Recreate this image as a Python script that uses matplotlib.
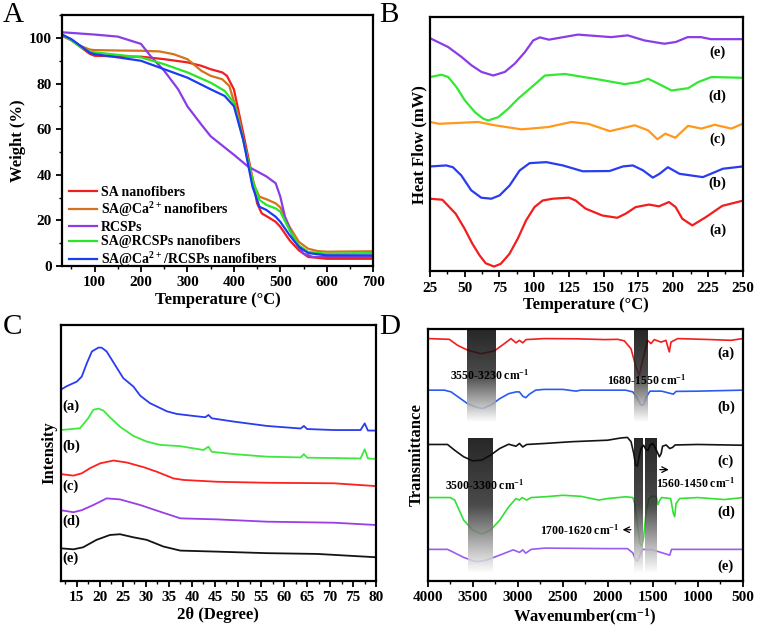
import numpy as np
import matplotlib
matplotlib.use('Agg')
import matplotlib.pyplot as plt
from matplotlib.colors import LinearSegmentedColormap
from matplotlib.ticker import MultipleLocator

plt.rcParams['font.family'] = 'Liberation Serif'
plt.rcParams['font.weight'] = 'bold'
plt.rcParams['axes.labelweight'] = 'bold'
plt.rcParams['mathtext.fontset'] = 'custom'
plt.rcParams['mathtext.rm'] = 'Liberation Serif:bold'
plt.rcParams['mathtext.bf'] = 'Liberation Serif:bold'
plt.rcParams['mathtext.default'] = 'bf'

# ---------------- A: TGA (weight %) ----------------
tga_T = {
    'SA': [30, 50, 70, 90, 100, 150, 200, 250, 300, 330, 350, 375, 385, 400, 420, 435,
           450, 460, 475, 490, 500, 520, 540, 560, 600, 700],
    'SACa': [30, 50, 70, 90, 100, 150, 200, 240, 270, 300, 330, 350, 375, 390, 410, 430,
             445, 455, 470, 490, 500, 520, 540, 560, 580, 600, 700],
    'RCSP': [30, 100, 150, 200, 220, 250, 280, 300, 330, 350, 400, 430, 450, 470, 490,
             500, 510, 530, 550, 570, 600, 700],
    'SARC': [30, 50, 70, 90, 100, 150, 200, 250, 300, 350, 380, 400, 420, 440, 455, 470,
             490, 500, 520, 540, 560, 600, 700],
    'SACaRC': [30, 50, 70, 90, 100, 150, 200, 250, 300, 350, 380, 400, 420, 440, 455, 470,
               490, 500, 520, 540, 560, 600, 700],
}
tga_W = {
    'SA': [101, 99, 96, 93, 92.2, 91.9, 91.8, 90.7, 89.3, 87.8, 86.3, 84.9, 83.4, 77.5,
           58.4, 43.7, 27.5, 23.1, 21.3, 19.4, 17.2, 11.3, 6.9, 4.0, 3.2, 3.2],
    'SACa': [101, 99, 96.5, 94.9, 94.7, 94.5, 94.4, 94.1, 92.9, 90.7, 85.6, 83.4, 81.9,
             79.0, 65.7, 46.6, 34.9, 30.4, 29.3, 27.5, 25.7, 17.2, 10.6, 7.6, 6.6, 6.3, 6.5],
    'RCSP': [102.5, 101.5, 100.6, 97.4, 92.2, 85.6, 77.5, 70.0, 62.0, 56.9, 48.8, 43.7,
             41.5, 39.3, 36.3, 30.4, 21.6, 11.3, 5.4, 4.0, 4.0, 4.0],
    'SARC': [101.5, 99, 96, 94, 93.7, 92.6, 91.5, 88.5, 84.9, 80.4, 76.8, 71.6, 55.4,
             37.8, 29.0, 26.8, 25.3, 23.8, 15.7, 9.1, 6.2, 5.4, 5.7],
    'SACaRC': [101.5, 99.5, 96.5, 93.5, 92.9, 91.5, 90.0, 86.3, 82.6, 77.5, 74.6, 70.1,
               55.4, 34.9, 26.0, 24.6, 21.6, 19.4, 13.5, 8.4, 5.7, 4.7, 4.7],
}
tga_labels = ['SA nanofibers', 'SA@Ca$^{2+}$nanofibers', 'RCSPs',
              'SA@RCSPs nanofibers', 'SA@Ca$^{2+}$/RCSPs nanofibers']
tga_keys = ['SA', 'SACa', 'RCSP', 'SARC', 'SACaRC']
tga_colors = ['#f21d1d', '#d4731c', '#8a3de6', '#27e627', '#1b3cf0']

# ---------------- B: DSC (arbitrary heat flow) ----------------
dsc_T = {
    'e': [25, 38.1, 47.7, 54.9, 62.1, 70.5, 78.9, 86.1, 93.3, 99.3, 104.1, 110.6, 131.5,
          155.4, 167.3, 179.3, 193.7, 202, 210.4, 220, 227.2, 250],
    'd': [25, 33.4, 38.1, 44.1, 50.1, 57.3, 63.3, 66.9, 74.1, 81.3, 88.5, 98.1, 107.7,
          122, 143.6, 165.2, 174.8, 182, 189.2, 198.8, 210.8, 218, 227.6, 250],
    'c': [25, 31.4, 59.7, 71.7, 90.9, 110, 126.8, 138.8, 154.4, 172.4, 182, 188.7, 194.4,
          201.6, 210.7, 220.3, 229.9, 241.9, 250],
    'b': [25, 36.7, 41.5, 47.5, 54.7, 61.9, 69.1, 75.1, 82.3, 89.5, 96.7, 108.7, 120.6,
          135, 154.2, 163.8, 171, 178.2, 185.4, 190.2, 196.2, 204.6, 221.4, 235.8, 250],
    'a': [25, 33.9, 43.5, 49.9, 55.5, 60.7, 65.1, 71.1, 76, 82.2, 88.2, 94.2, 100.2,
          106.1, 113.3, 125, 129.8, 137, 149, 159.8, 165.8, 173, 182.6, 189.8, 197,
          201.8, 206.6, 213.8, 223.4, 235.4, 250],
}
dsc_H = {
    'e': [91.7, 88.2, 84.3, 81.0, 78.4, 77.0, 78.4, 81.7, 86.2, 90.8, 92.0, 91.1, 93.1,
          92.1, 92.8, 90.8, 89.5, 90.2, 92.1, 92.1, 91.3, 91.3],
    'd': [76.4, 77.3, 76.4, 72.4, 67.2, 62.6, 60.0, 59.3, 60.6, 63.9, 67.9, 72.4, 77.0,
          77.6, 75.7, 73.6, 74.4, 75.7, 73.8, 71.1, 72.0, 74.4, 76.4, 76.1],
    'c': [58.7, 58.0, 58.7, 57.4, 55.8, 56.7, 58.7, 58.0, 55.1, 57.4, 55.4, 51.9, 54.1,
          52.5, 57.2, 56.1, 57.6, 56.1, 58.0],
    'b': [41.2, 41.6, 40.9, 37.7, 31.8, 28.9, 28.5, 29.8, 33.7, 39.6, 42.5, 42.9, 41.6,
          39.3, 39.4, 41.2, 41.6, 39.7, 36.8, 38.3, 40.9, 38.3, 37.0, 40.3, 41.2],
    'a': [28.5, 28.1, 22.6, 16.7, 10.8, 6.2, 3.1, 1.8, 2.9, 6.8, 12.8, 20.0, 25.2, 27.8,
          28.5, 28.9, 27.8, 24.6, 21.9, 21.0, 22.6, 25.2, 26.2, 25.5, 27.2, 25.2, 20.6,
          18.0, 21.2, 25.7, 27.7],
}
dsc_colors = {'e': '#8a3de6', 'd': '#33e833', 'c': '#ff981c', 'b': '#2a3cf0', 'a': '#f21d1d'}
dsc_label_y = {'e': 86, 'd': 69, 'c': 51.8, 'b': 34.5, 'a': 16}

# ---------------- C: XRD (arbitrary intensity) ----------------
xrd_2t = {
    'a': [11.5, 12.8, 15, 16.1, 17.2, 18.3, 19.7, 20.4, 21.5, 23.3, 25.1, 27.3, 28.8,
          30.9, 34.6, 36.7, 40.4, 42.9, 43.6, 44.3, 49.1, 56.3, 63.6, 64.3, 65, 70.8,
          76.6, 77.5, 78.2, 80],
    'b': [11.5, 15.7, 17.5, 18.6, 19.7, 20.8, 22.2, 24.4, 27.3, 30.2, 33.1, 37.5, 42.5,
          43.6, 44.3, 49.1, 56.3, 63.6, 64.3, 65, 76.6, 77.5, 78.2, 80],
    'c': [11.5, 14.3, 16.1, 17.9, 20.1, 23, 25.9, 29.5, 32.4, 36, 38.2, 45.4, 56.3, 70.8, 80],
    'd': [11.5, 14.3, 16.1, 18.6, 21.5, 24.4, 28.8, 33.1, 37.5, 45.4, 56.3, 70.8, 80],
    'e': [11.5, 14.3, 16.4, 19.3, 22.2, 24.4, 27.3, 30.2, 33.8, 37.5, 45.4, 56.3, 67.2, 80],
}
xrd_I = {
    'a': [74.6, 76.0, 77.8, 79.8, 85.0, 89.6, 91.1, 91.1, 89.6, 84.4, 79.2, 75.9, 72.3,
          69.4, 66.2, 65.2, 64.4, 63.9, 64.8, 63.5, 62.2, 60.5, 59.5, 60.5, 59.3, 58.9,
          58.9, 61.5, 58.7, 58.7],
    'b': [58.9, 59.6, 63.5, 66.8, 67.3, 66.5, 63.9, 60.2, 56.6, 54.4, 53.1, 52.6, 51.1,
          52.4, 50.4, 49.5, 48.5, 48.2, 49.5, 48.1, 47.8, 51.4, 47.8, 47.6],
    'c': [41.7, 41.1, 42.0, 44.0, 45.9, 47.0, 46.2, 44.4, 42.6, 40.0, 39.4, 38.7, 38.3, 38.1, 37.0],
    'd': [27.6, 26.8, 27.6, 29.6, 32.2, 31.8, 29.6, 27.0, 24.4, 24.0, 23.1, 22.7, 21.8],
    'e': [12.7, 12.3, 13.1, 16.0, 17.9, 18.2, 17.0, 16.0, 13.4, 11.8, 11.4, 10.8, 10.5, 9.2],
}
xrd_colors = {'a': '#2a3cf0', 'b': '#3ee83e', 'c': '#ff2020', 'd': '#9a3ee6', 'e': '#141414'}
xrd_label_y = {'a': 68.3, 'b': 52.4, 'c': 37.0, 'd': 23.4, 'e': 9.0}

# ---------------- D: FTIR (arbitrary transmittance) ----------------
ir_wn = {
    'a': [4000, 3760, 3667, 3556, 3407, 3259, 3148, 3074, 3019, 2981, 2944, 2907, 2704,
          2333, 2037, 1889, 1815, 1741, 1685, 1648, 1611, 1556, 1519, 1481, 1407, 1352,
          1315, 1296, 1222, 852, 630, 500],
    'b': [4000, 3815, 3740, 3650, 3556, 3450, 3390, 3300, 3200, 3100, 3019, 2981, 2944,
          2910, 2870, 2800, 2704, 2500, 2350, 2300, 2000, 1800, 1720, 1680, 1630, 1600,
          1570, 1530, 1400, 1270, 1240, 1000, 500],
    'c': [4000, 3780, 3700, 3600, 3500, 3400, 3300, 3200, 3100, 3019, 2980, 2944, 2900,
          2700, 2400, 2000, 1850, 1780, 1740, 1710, 1690, 1670, 1650, 1630, 1600, 1575,
          1550, 1530, 1500, 1480, 1450, 1425, 1405, 1390, 1350, 1310, 1280, 1250, 1000, 500],
    'd': [4000, 3750, 3700, 3650, 3600, 3500, 3400, 3300, 3200, 3100, 3019, 2980, 2950,
          2900, 2850, 2700, 2500, 2300, 2100, 2000, 1800, 1720, 1700, 1670, 1640, 1620,
          1600, 1570, 1540, 1500, 1460, 1440, 1420, 1400, 1300, 1270, 1255, 1240, 1200,
          1000, 700, 500],
    'e': [4000, 3780, 3700, 3600, 3500, 3450, 3350, 3200, 3050, 2980, 2944, 2910, 2850,
          2700, 2000, 1780, 1720, 1690, 1670, 1640, 1610, 1500, 1310, 1290, 1000, 500],
}
ir_T = {
    'a': [96.3, 96.0, 93.6, 91.7, 90.3, 91.4, 94.3, 96.3, 94.6, 95.6, 94.6, 95.9, 96.3,
          96.2, 95.9, 96.0, 95.4, 92.3, 85.0, 81.7, 87.7, 95.6, 94.3, 95.9, 94.9, 95.6,
          91.0, 94.9, 96.3, 95.9, 95.6, 96.3],
    'b': [75.8, 75.8, 75.1, 72.8, 70.4, 68.9, 68.5, 69.8, 72.4, 74.4, 75.1, 75.1, 73.4,
          72.8, 74.2, 75.8, 76.1, 76.1, 75.4, 75.8, 75.8, 75.8, 75.1, 73.1, 69.8, 70.0,
          73.1, 75.4, 75.4, 74.2, 75.3, 75.4, 75.8],
    'c': [54.2, 54.2, 51.9, 49.3, 47.7, 48.0, 50.0, 52.6, 54.3, 53.5, 54.6, 53.2, 54.2,
          54.6, 55.3, 55.9, 56.8, 57.0, 55.3, 50.6, 46.0, 45.6, 49.3, 52.6, 53.9, 52.2,
          51.9, 53.9, 54.6, 53.5, 51.3, 49.3, 50.6, 53.5, 54.0, 52.6, 53.0, 54.0, 54.2, 53.9],
    'd': [33.1, 33.1, 32.1, 28.1, 24.1, 20.2, 18.6, 20.2, 24.1, 29.4, 32.7, 32.1, 33.1,
          32.1, 33.1, 33.4, 34.0, 33.6, 32.1, 32.7, 33.4, 33.1, 30.7, 22.7, 14.8, 13.7,
          17.4, 28.1, 32.7, 33.7, 33.4, 30.3, 32.1, 33.1, 32.7, 26.8, 25.5, 30.7, 32.7,
          33.1, 32.3, 33.1],
    'e': [12.5, 12.5, 11.1, 9.3, 8.0, 7.6, 8.2, 10.2, 12.3, 11.3, 12.3, 11.0, 12.5, 13.0,
          12.8, 12.8, 11.1, 8.3, 7.8, 10.2, 12.5, 12.3, 10.2, 12.5, 12.5, 12.5],
}
ir_colors = {'a': '#f21d1d', 'b': '#2a5cf0', 'c': '#141414', 'd': '#33e033', 'e': '#9a5cf0'}
ir_label_y = {'a': 90.3, 'b': 69.1, 'c': 47.7, 'd': 27.4, 'e': 5.8}

# shaded bands: (wavenumber from, wavenumber to, intensity bottom, intensity top)
ir_bands = [(3563, 3241, 63.2, 100), (1711, 1563, 63.2, 100),
            (3548, 3278, 3.1, 56.6), (1711, 1611, 3.1, 56.6), (1585, 1452, 3.1, 56.6)]


def style_axes(ax, ylabel, xlabel, show_y=True):
    for sp in ax.spines.values():
        sp.set_linewidth(1.6)
    ax.tick_params(axis='both', which='major', direction='out', length=4, width=1.3,
                   labelsize=11)
    ax.tick_params(axis='both', which='minor', direction='out', length=2.5, width=1.0)
    ax.set_xlabel(xlabel, fontsize=12, labelpad=2)
    ax.set_ylabel(ylabel, fontsize=12, labelpad=2)
    if not show_y:
        ax.set_yticks([])


fig = plt.figure(figsize=(7.57, 6.32), dpi=100)
axA = fig.add_axes([0.082, 0.579, 0.411, 0.397])
axB = fig.add_axes([0.568, 0.571, 0.413, 0.402])
axC = fig.add_axes([0.080, 0.081, 0.417, 0.405])
axD = fig.add_axes([0.565, 0.081, 0.416, 0.398])

# A
for k, lab, c in zip(tga_keys, tga_labels, tga_colors):
    axA.plot(tga_T[k], tga_W[k], color=c, lw=1.6, label=lab)
axA.set_xlim(30, 700)
axA.set_ylim(0, 110)
axA.xaxis.set_major_locator(MultipleLocator(100))
axA.xaxis.set_minor_locator(MultipleLocator(50))
axA.yaxis.set_major_locator(MultipleLocator(20))
axA.yaxis.set_minor_locator(MultipleLocator(10))
style_axes(axA, 'Weight (%)', 'Temperature (°C)')
axA.legend(loc='lower left', bbox_to_anchor=(-0.005, -0.045), frameon=False,
           fontsize=10, handlelength=2.0, handletextpad=0.3, labelspacing=0.12,
           borderaxespad=0.2)

# B
for k in ['e', 'd', 'c', 'b', 'a']:
    axB.plot(dsc_T[k], dsc_H[k], color=dsc_colors[k], lw=1.6)
    axB.text(232, dsc_label_y[k], f'({k})', fontsize=10.5, ha='center', va='center')
axB.set_xlim(25, 250)
axB.set_ylim(0, 100)
axB.xaxis.set_major_locator(MultipleLocator(25))
axB.xaxis.set_minor_locator(MultipleLocator(12.5))
style_axes(axB, 'Heat Flow (mW)', 'Temperature (°C)', show_y=False)

# C
for k in ['a', 'b', 'c', 'd', 'e']:
    axC.plot(xrd_2t[k], xrd_I[k], color=xrd_colors[k], lw=1.3)
    axC.text(12.0, xrd_label_y[k], f'({k})', fontsize=10.5, ha='left', va='center')
axC.set_xlim(11.5, 80)
axC.set_ylim(0, 100)
axC.xaxis.set_major_locator(MultipleLocator(5))
axC.xaxis.set_minor_locator(MultipleLocator(2.5))
style_axes(axC, 'Intensity', '2θ (Degree)', show_y=False)

# D
for k in ['a', 'b', 'c', 'd', 'e']:
    axD.plot(ir_wn[k], ir_T[k], color=ir_colors[k], lw=1.2, zorder=2)
    axD.text(685, ir_label_y[k], f'({k})', fontsize=10.5, ha='center', va='center')
band_cmap = LinearSegmentedColormap.from_list('band', ['#000000', '#2a2a2a', '#ffffff'])
grad = np.linspace(0, 1, 256).reshape(-1, 1)
for x0, x1, y0, y1 in ir_bands:
    axD.imshow(grad, cmap=band_cmap, extent=[x0, x1, y0, y1], origin='upper',
               aspect='auto', alpha=0.85, zorder=3)
axD.text(3315, 81.7, '3550-3230 cm$^{-1}$', fontsize=8.5, ha='center', va='center', zorder=4)
axD.text(1565, 79.7, '1680-1550 cm$^{-1}$', fontsize=8.5, ha='center', va='center', zorder=4)
axD.text(3363, 38.0, '3500-3300 cm$^{-1}$', fontsize=8.5, ha='center', va='center', zorder=4)
axD.text(1019, 38.9, '1560-1450 cm$^{-1}$', fontsize=8.5, ha='center', va='center', zorder=4)
axD.text(2307, 20.1, '1700-1620 cm$^{-1}$', fontsize=8.5, ha='center', va='center', zorder=4)
axD.annotate('', xy=(1290, 44.2), xytext=(1452, 44.2),
             arrowprops=dict(arrowstyle='->', color='black', lw=0.9), zorder=4)
axD.annotate('', xy=(1865, 20.3), xytext=(1711, 20.3),
             arrowprops=dict(arrowstyle='->', color='black', lw=0.9), zorder=4)
axD.set_xlim(4000, 500)
axD.set_ylim(0, 100)
axD.xaxis.set_major_locator(MultipleLocator(500))
axD.xaxis.set_minor_locator(MultipleLocator(250))
style_axes(axD, 'Transmittance', 'Wavenumber(cm$^{-1}$)', show_y=False)

# panel letters
for lab, x, y in [('A', 0.003, 0.997), ('B', 0.501, 0.997), ('C', 0.003, 0.503), ('D', 0.501, 0.503)]:
    fig.text(x, y, lab, fontsize=21, fontweight='normal', ha='left', va='top')

plt.savefig('out.png', dpi=100)
plt.close()
